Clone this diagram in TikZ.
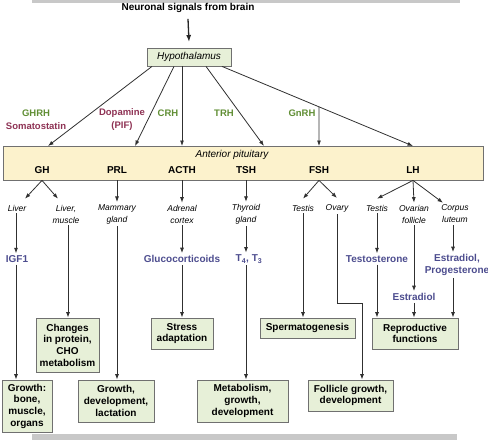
\documentclass[tikz,border=0pt]{standalone}
\usepackage{fontspec}
\setmainfont{Liberation Sans}
\usepackage{xcolor}
\usepackage{tikz}
\usetikzlibrary{arrows.meta,positioning,calc}
\definecolor{releasegreen}{RGB}{96,142,52}
\definecolor{inhibitred}{RGB}{142,50,84}
\definecolor{hormoneblue}{RGB}{76,76,142}
\definecolor{boxgreen}{RGB}{231,240,216}
\definecolor{pituitaryyellow}{RGB}{252,242,204}
\definecolor{edgegray}{RGB}{112,112,112}
\definecolor{arrowgray}{RGB}{48,48,48}
\definecolor{bargray}{RGB}{200,200,200}

\begin{document}
\begin{tikzpicture}[
    x=1pt, y=-1pt,
    % Node styles
    gland/.style={rectangle, draw=edgegray, fill=boxgreen, line width=0.8pt, font=\fontsize{10}{12}\selectfont\itshape, minimum width=84pt, minimum height=18pt, inner sep=1pt},
    pituitary/.style={rectangle, draw=edgegray, fill=pituitaryyellow, line width=0.8pt, minimum width=480pt, minimum height=34pt},
    hormone/.style={font=\fontsize{10}{12}\selectfont\bfseries, inner sep=2pt},
    releasing/.style={font=\fontsize{9.5}{12.5}\selectfont\bfseries, text=releasegreen, align=center, inner sep=1pt},
    tissue/.style={font=\fontsize{8.5}{12}\selectfont\itshape, align=center, inner sep=2pt},
    product/.style={font=\fontsize{10}{12}\selectfont\bfseries, text=hormoneblue, align=center, inner sep=2pt},
    effect/.style={rectangle, draw=edgegray, fill=boxgreen, line width=0.8pt, font=\fontsize{10}{11.7}\selectfont\bfseries, align=center, inner sep=1pt},
    arrow/.style={-{Latex[length=5.5pt,width=4pt]}, line width=0.8pt, color=arrowgray},
    bigarrow/.style={-{Latex[length=7pt,width=5pt]}, line width=1.3pt, color=black!85}
]
\useasboundingbox (0,0) rectangle (488,440);

% Gray page bars
\fill [bargray] (32,0) rectangle (460,3);
\fill [bargray] (32,434) rectangle (457,440);

% Row 1: Brain and hypothalamus
\node [hormone] (brain) at (188,8) {Neuronal signals from brain};
\node [gland] (hyp) at (189,57) {Hypothalamus};

% Row 2: Releasing and inhibiting hormones
\node [releasing] (ghrh) at (36,119.5) {GHRH\\\textcolor{inhibitred}{Somatostatin}};
\node [releasing, text=inhibitred] (dopa) at (122,119.5) {Dopamine\\(PIF)};
\node [releasing] (crh) at (168,113) {CRH};
\node [releasing] (trh) at (224,113) {TRH};
\node [releasing] (gnrh) at (302,113) {GnRH};

% Row 3: Anterior pituitary and its hormones
\node [pituitary] (pit) at (243,163) {};
\node [tissue, font=\fontsize{10}{12}\selectfont\itshape] (pitlabel) at (232,155) {Anterior pituitary};
\node [hormone] (gh) at (42,170) {GH};
\node [hormone] (prl) at (117,170) {PRL};
\node [hormone] (acth) at (182,170) {ACTH};
\node [hormone] (tsh) at (246,170) {TSH};
\node [hormone] (fsh) at (319,170) {FSH};
\node [hormone] (lh) at (413,170) {LH};

% Entry points on the pituitary
\coordinate (inGH) at (48,146);
\coordinate (inPRL) at (135,146);
\coordinate (inACTH) at (182,146);
\coordinate (inTSH) at (264,146);
\coordinate (inFSH) at (319,146);
\coordinate (inLH) at (413,146);
\coordinate (outGH) at ($(hyp.south)+(-37,0)$);
\coordinate (outPRL) at ($(hyp.south)+(-15,0)$);
\coordinate (outACTH) at ($(hyp.south)+(-7,0)$);
\coordinate (outTSH) at ($(hyp.south)+(17,0)$);
\coordinate (outLH) at ($(hyp.south)+(33,0)$);
\coordinate (gnsplit) at ($(outLH)!0.508!(inLH)$);

% Row 4: Target tissues
\node [tissue] (liver) at (17,208) {Liver};
\node [tissue] (livmus) at (66,214) {Liver,\\muscle};
\node [tissue] (mammary) at (117,214) {Mammary\\gland};
\node [tissue] (adrenal) at (182,214) {Adrenal\\cortex};
\node [tissue] (thyroid) at (246,214) {Thyroid\\gland};
\node [tissue] (ftestis) at (303,208) {Testis};
\node [tissue] (ovary) at (337,208) {Ovary};
\node [tissue] (ltestis) at (377,208) {Testis};
\node [tissue] (follicle) at (414,214) {Ovarian\\follicle};
\node [tissue] (corpus) at (455,214) {Corpus\\luteum};

% Row 5: Secreted products
\node [product] (igf) at (17,259) {IGF1};
\node [product] (gluco) at (182,259) {Glucocorticoids};
\node [product] (thyrox) at (249,259) {T\textsubscript{4}, T\textsubscript{3}};
\node [product] (testo) at (377,259) {Testosterone};
\node [product] (estra) at (414,297) {Estradiol};
\node [product] (estpro) at (457,265) {Estradiol,\\Progesterone};

% Row 6: Effects
\node [effect, minimum width=63pt, minimum height=54pt] (changes) at (67.5,345) {Changes\\in protein,\\CHO\\metabolism};
\node [effect, minimum width=62pt, minimum height=31pt] (stress) at (182,333.5) {Stress\\adaptation};
\node [effect, minimum width=95pt, minimum height=20pt] (sperm) at (307.5,328) {Spermatogenesis};
\node [effect, minimum width=86pt, minimum height=31pt] (repro) at (415,333.5) {Reproductive\\functions};

% Row 7: Effects (bottom)
\node [effect, minimum width=50pt, minimum height=52pt] (growthb) at (27,406) {Growth:\\bone,\\muscle,\\organs};
\node [effect, minimum width=76pt, minimum height=42pt] (growthl) at (116,401) {Growth,\\development,\\lactation};
\node [effect, minimum width=91pt, minimum height=42pt] (metab) at (242.5,401) {Metabolism,\\growth,\\development};
\node [effect, minimum width=85pt, minimum height=31pt] (follb) at (350.5,395.5) {Follicle growth,\\development};
\coordinate (ovbend) at (362,303);

% Brain to hypothalamus
\draw [bigarrow] (brain.south) ++(0,4) coordinate (brainout) -- (hyp.north |- 0,42);

% Hypothalamus to pituitary
\draw [arrow] (outGH) -- (inGH);
\draw [arrow] (outPRL) -- (inPRL);
\draw [arrow] (outACTH) -- (inACTH);
\draw [arrow] (outTSH) -- (inTSH);
\draw [arrow] (outLH) -- (inLH);
\draw [arrow] (gnsplit) -- (inFSH);

% Pituitary hormones to target tissues
\draw [arrow] (pit.south -| gh) -- ($(liver.north)+(8,-4)$);
\draw [arrow] (pit.south -| gh) -- ($(livmus.north)+(-8,-4)$);
\draw [arrow] (pit.south -| prl) -- (mammary.north);
\draw [arrow] (pit.south -| acth) -- (adrenal.north);
\draw [arrow] (pit.south -| tsh) -- (thyroid.north);
\draw [arrow] (pit.south -| fsh) -- ($(ftestis.north)+(0,-4)$);
\draw [arrow] (pit.south -| fsh) -- ($(ovary.north)+(0,-4)$);
\draw [arrow] (pit.south -| lh) -- ($(ltestis.north)+(0,-4)$);
\draw [arrow] (pit.south -| lh) -- (follicle.north);
\draw [arrow] (pit.south -| lh) -- ($(corpus.north)+(-12,0)$);

% Target tissues to products
\draw [arrow] (liver.south -| 16,0) -- (igf.north -| 16,0);
\draw [arrow] (adrenal.south) -- (gluco.north);
\draw [arrow] (thyroid.south) -- (thyroid.south |- thyrox.north);
\draw [arrow] (ltestis.south) -- (testo.north);
\draw [arrow] (follicle.south) -- (estra.north);
\draw [arrow] (corpus.south -| 453,0) -- (estpro.north -| 453,0);

% Products and tissues to effects
\draw [arrow] (igf.south -| 16,0) -- (growthb.north -| 16,0);
\draw [arrow] (livmus.south -| 68,0) -- (changes.north -| 68,0);
\draw [arrow] (mammary.south) -- (growthl.north -| mammary);
\draw [arrow] (gluco.south) -- (stress.north);
\draw [arrow] (thyroid.south |- thyrox.south) -- (metab.north -| thyroid);
\draw [arrow] (ftestis.south) -- (sperm.north -| ftestis);
\draw [arrow] (ovary.south) |- (ovbend) -- (ovbend |- follb.north);
\draw [arrow] (testo.south) -- (repro.north -| testo);
\draw [arrow] (estra.south) -- (repro.north -| estra);
\draw [arrow] (estpro.south -| 453,0) -- (repro.north -| 453,0);

\end{tikzpicture}
\end{document}
